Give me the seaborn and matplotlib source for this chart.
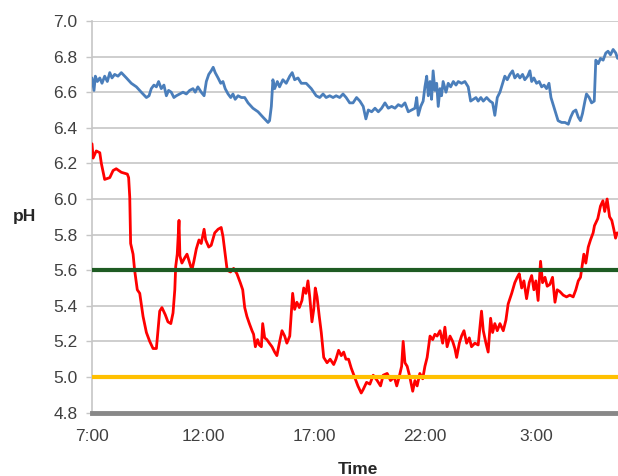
import pandas as pd
import seaborn as sns
import matplotlib.pyplot as plt

# hours after 7:00 and pH values
blue_hours = [0.00, 0.09, 0.15, 0.24, 0.35, 0.45, 0.57, 0.69, 0.80, 0.90, 1.02, 1.17, 1.32, 1.55, 1.77,
              2.00, 2.22, 2.45, 2.57, 2.67, 2.79, 2.90, 3.00, 3.12, 3.24, 3.35, 3.45, 3.57, 3.69, 3.80,
              3.95, 4.10, 4.25, 4.40, 4.55, 4.65, 4.77, 4.92, 5.05, 5.15, 5.26, 5.37, 5.46, 5.55, 5.68,
              5.80, 5.90, 6.00, 6.13, 6.25, 6.35, 6.45, 6.58, 6.73, 6.88, 7.03, 7.25, 7.48, 7.70, 7.93,
              8.00, 8.08, 8.15, 8.23, 8.35, 8.45, 8.60, 8.75, 8.91, 9.02, 9.13, 9.28, 9.43, 9.65, 9.88,
              10.10, 10.26, 10.41, 10.55, 10.71, 10.86, 11.00, 11.16, 11.31, 11.45, 11.61, 11.76, 11.92,
              12.07, 12.22, 12.34, 12.45, 12.60, 12.75, 12.90, 13.05, 13.20, 13.35, 13.50, 13.65, 13.80,
              13.95, 14.10, 14.25, 14.40, 14.55, 14.63, 14.70, 14.81, 14.92, 15.00, 15.08, 15.15, 15.23,
              15.30, 15.37, 15.45, 15.53, 15.60, 15.68, 15.75, 15.82, 15.95, 16.05, 16.16, 16.28, 16.40,
              16.50, 16.65, 16.80, 16.95, 17.06, 17.18, 17.30, 17.40, 17.52, 17.63, 17.78, 17.93, 18.05,
              18.15, 18.26, 18.38, 18.50, 18.60, 18.71, 18.83, 18.95, 19.05, 19.18, 19.28, 19.40, 19.50,
              19.63, 19.73, 19.81, 19.91, 20.03, 20.15, 20.26, 20.37, 20.48, 20.59, 20.68, 20.78, 20.86,
              20.93, 21.00, 21.16, 21.31, 21.46, 21.57, 21.68, 21.80, 21.91, 22.01, 22.10, 22.21, 22.28,
              22.40, 22.51, 22.63, 22.70, 22.81, 22.91, 23.03, 23.15, 23.25, 23.36, 23.48, 23.60, 23.68]
blue_ph = [6.68, 6.61, 6.69, 6.66, 6.68, 6.65, 6.69, 6.66, 6.71, 6.68, 6.70, 6.69, 6.71, 6.68, 6.65,
           6.63, 6.60, 6.57, 6.58, 6.62, 6.64, 6.63, 6.66, 6.62, 6.64, 6.58, 6.61, 6.60, 6.57, 6.58,
           6.59, 6.60, 6.59, 6.61, 6.62, 6.60, 6.63, 6.60, 6.58, 6.66, 6.70, 6.72, 6.74, 6.71, 6.68,
           6.65, 6.66, 6.62, 6.59, 6.57, 6.59, 6.56, 6.58, 6.57, 6.57, 6.54, 6.51, 6.49, 6.46, 6.43,
           6.44, 6.52, 6.67, 6.62, 6.66, 6.63, 6.67, 6.65, 6.69, 6.71, 6.67, 6.68, 6.65, 6.65, 6.62,
           6.58, 6.57, 6.59, 6.57, 6.58, 6.57, 6.58, 6.57, 6.59, 6.57, 6.54, 6.54, 6.57,
           6.55, 6.52, 6.45, 6.50, 6.49, 6.51, 6.49, 6.51, 6.54, 6.51, 6.52, 6.51, 6.53,
           6.52, 6.54, 6.49, 6.50, 6.51, 6.57, 6.47, 6.52, 6.55, 6.63, 6.69, 6.58, 6.66,
           6.56, 6.72, 6.61, 6.65, 6.52, 6.62, 6.58, 6.66, 6.60, 6.65, 6.63, 6.66, 6.64,
           6.66, 6.65, 6.66, 6.63, 6.55, 6.56, 6.57, 6.55, 6.57, 6.55, 6.57, 6.55, 6.54,
           6.47, 6.57, 6.60, 6.65, 6.69, 6.67, 6.70, 6.72, 6.68, 6.70, 6.68, 6.70, 6.67,
           6.69, 6.72, 6.66, 6.68, 6.65, 6.66, 6.63, 6.64, 6.62, 6.65, 6.57, 6.53, 6.50,
           6.47, 6.44, 6.43, 6.43, 6.42, 6.46, 6.49, 6.50, 6.46, 6.44, 6.48, 6.55, 6.59,
           6.57, 6.54, 6.55, 6.78, 6.76, 6.79, 6.78, 6.82, 6.83, 6.81, 6.84, 6.82, 6.79]

red_hours = [0.00, 0.05, 0.19, 0.35, 0.42, 0.57, 0.80, 0.95, 1.09, 1.32, 1.59, 1.65, 1.70, 1.74, 1.85,
             1.92, 2.04, 2.15, 2.22, 2.30, 2.45, 2.60, 2.75, 2.90, 2.97, 3.05, 3.15, 3.30, 3.42, 3.55,
             3.65, 3.73, 3.77, 3.84, 3.92, 3.96, 4.05, 4.18, 4.28, 4.40, 4.50, 4.59, 4.70, 4.82, 4.92,
             5.05, 5.12, 5.26, 5.37, 5.53, 5.68, 5.82, 5.90, 5.98, 6.09, 6.24, 6.38, 6.53, 6.68, 6.79,
             6.88, 6.98, 7.09, 7.21, 7.28, 7.36, 7.46, 7.54, 7.63, 7.69, 7.78, 7.88, 7.99, 8.11, 8.23,
             8.33, 8.44, 8.56, 8.68, 8.78, 8.91, 8.98, 9.04, 9.13, 9.23, 9.34, 9.46, 9.54, 9.64, 9.73,
             9.81, 9.91, 9.99, 10.06, 10.14, 10.24, 10.33, 10.44, 10.59, 10.73, 10.89, 10.99, 11.11,
             11.23, 11.34, 11.44, 11.56, 11.68, 11.83, 11.98, 12.13, 12.22, 12.37, 12.52, 12.67, 12.85,
             13.00, 13.12, 13.30, 13.45, 13.62, 13.73, 13.84, 13.95, 14.02, 14.10, 14.20, 14.32, 14.45,
             14.55, 14.65, 14.77, 14.90, 15.00, 15.10, 15.23, 15.35, 15.45, 15.55, 15.68, 15.80, 15.90,
             16.00, 16.13, 16.25, 16.35, 16.43, 16.55, 16.65, 16.76, 16.88, 17.00, 17.10, 17.25, 17.40,
             17.55, 17.63, 17.75, 17.85, 17.96, 18.05, 18.15, 18.26, 18.38, 18.53, 18.65, 18.75, 18.91,
             19.05, 19.16, 19.25, 19.36, 19.46, 19.58, 19.70, 19.81, 19.91, 20.00, 20.10, 20.21, 20.30,
             20.41, 20.51, 20.63, 20.75, 20.86, 20.96, 21.08, 21.23, 21.38, 21.53, 21.68, 21.80, 21.91,
             22.01, 22.10, 22.16, 22.25, 22.36, 22.46, 22.58, 22.64, 22.79, 22.91, 23.02, 23.10, 23.21,
             23.32, 23.42, 23.51, 23.59, 23.66]
red_ph = [6.31, 6.23, 6.27, 6.26, 6.20, 6.11, 6.12, 6.16, 6.17, 6.15, 6.14, 6.12, 6.01, 5.75, 5.69,
          5.60, 5.49, 5.47, 5.41, 5.34, 5.25, 5.20, 5.16, 5.16, 5.26, 5.37, 5.39, 5.35, 5.31, 5.30,
          5.36, 5.49, 5.62, 5.69, 5.88, 5.68, 5.64, 5.67, 5.69, 5.64, 5.60, 5.65, 5.72, 5.77, 5.75,
          5.83, 5.77, 5.73, 5.74, 5.81, 5.83, 5.84, 5.79, 5.71, 5.60, 5.59, 5.61, 5.58, 5.53, 5.49,
          5.39, 5.34, 5.30, 5.26, 5.24, 5.17, 5.21, 5.18, 5.17, 5.30, 5.22, 5.21, 5.19, 5.17, 5.14,
          5.12, 5.19, 5.26, 5.23, 5.19, 5.23, 5.36, 5.47, 5.38, 5.42, 5.39, 5.43, 5.50, 5.47, 5.54,
          5.45, 5.31, 5.38, 5.50, 5.45, 5.34, 5.25, 5.11, 5.08, 5.10, 5.07, 5.10, 5.15,
          5.12, 5.14, 5.10, 5.10, 5.05, 5.00, 4.95, 4.91, 4.93, 4.97, 4.96, 5.01, 4.98,
          4.95, 5.01, 5.02, 4.98, 5.00, 4.95, 5.00, 5.06, 5.20, 5.08, 5.06, 5.00, 4.92,
          4.98, 4.95, 5.02, 4.99, 5.06, 5.11, 5.23, 5.21, 5.24, 5.23, 5.26, 5.19, 5.28,
          5.17, 5.23, 5.20, 5.16, 5.11, 5.19, 5.23, 5.26, 5.19, 5.22, 5.17, 5.19, 5.18,
          5.37, 5.26, 5.19, 5.14, 5.33, 5.25, 5.30, 5.26, 5.30, 5.26, 5.32, 5.41, 5.47,
          5.53, 5.56, 5.58, 5.50, 5.54, 5.44, 5.53, 5.57, 5.49, 5.54, 5.43, 5.65, 5.53,
          5.56, 5.51, 5.52, 5.56, 5.42, 5.49, 5.48, 5.46, 5.45, 5.46, 5.45, 5.49, 5.54,
          5.56, 5.64, 5.69, 5.64, 5.73, 5.77, 5.81, 5.85, 5.89, 5.96, 5.99, 5.93, 6.00,
          5.90, 5.88, 5.83, 5.78, 5.81]

green_level = 5.6
gold_level = 5.0
tick_hours = [0, 5, 10, 15, 20]
tick_labels = ['7:00', '12:00', '17:00', '22:00', '3:00']
y_ticks = [4.8, 5.0, 5.2, 5.4, 5.6, 5.8, 6.0, 6.2, 6.4, 6.6, 6.8, 7.0]

sns.set_style("white")
plt.rcParams['font.family'] = ['Liberation Sans', 'DejaVu Sans']

blue_df = pd.DataFrame({'Time': blue_hours, 'pH': blue_ph})
red_df = pd.DataFrame({'Time': red_hours, 'pH': red_ph})

fig = plt.figure(figsize=(6.18, 4.76), dpi=100)
ax = fig.add_axes([0.1489, 0.1332, 0.8511, 0.8227])

sns.lineplot(data=blue_df, x='Time', y='pH', ax=ax, color='#4A7EBB', lw=2.0,
             estimator=None, sort=False, zorder=3)
sns.lineplot(data=red_df, x='Time', y='pH', ax=ax, color='#FF0000', lw=2.0,
             estimator=None, sort=False, zorder=3)

ax.axhline(green_level, color='#1E5B23', lw=3, zorder=4)
ax.axhline(gold_level, color='#FFC000', lw=3, zorder=4)

ax.set_xlim(0, 23.7)
ax.set_ylim(4.8, 7.0)
ax.set_yticks(y_ticks)
ax.set_yticklabels([f'{v:.1f}' for v in y_ticks])
ax.set_xticks(tick_hours)
ax.set_xticklabels(tick_labels)

ax.yaxis.grid(True, color='#C6C6C6', lw=1.2, zorder=0)
ax.set_axisbelow(True)
ax.tick_params(axis='y', length=4.5, width=1, color='#C6C6C6', pad=6,
               labelsize=12.5, labelcolor='#404040', left=True)
ax.tick_params(axis='x', length=0, pad=12, labelsize=12.5, labelcolor='#404040')

for s in ['top', 'right']:
    ax.spines[s].set_visible(False)
ax.spines['left'].set_color('#C6C6C6')
ax.spines['left'].set_linewidth(1.2)
ax.spines['bottom'].set_color('#888888')
ax.spines['bottom'].set_linewidth(3.5)
ax.spines['bottom'].set_zorder(5)

ax.set_xlabel('')
ax.set_ylabel('')
fig.text(24 / 618, 1 - 217 / 476, 'pH', ha='center', va='center', fontsize=12.5, fontweight='bold')
fig.text(358 / 618, 1 - 469 / 476, 'Time', ha='center', va='center', fontsize=12.5, fontweight='bold')

fig.savefig('out.png', dpi=100)
